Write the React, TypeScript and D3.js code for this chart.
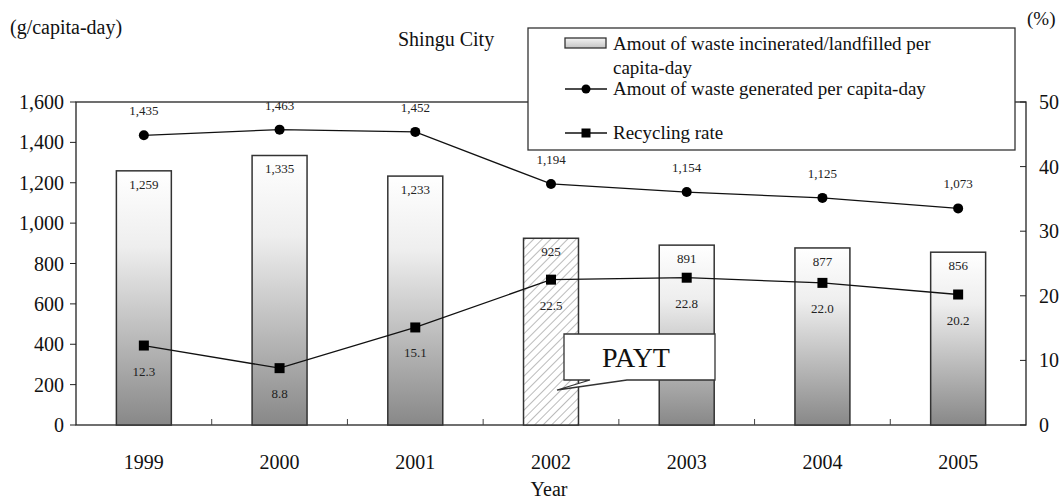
import React from "react";
import * as d3 from "d3";

const years = ["1999", "2000", "2001", "2002", "2003", "2004", "2005"];
const incinerated = [1259, 1335, 1233, 925, 891, 877, 856];
const generated = [1435, 1463, 1452, 1194, 1154, 1125, 1073];
const recycling = [12.3, 8.8, 15.1, 22.5, 22.8, 22.0, 20.2];
const leftTicks = [0, 200, 400, 600, 800, 1000, 1200, 1400, 1600];
const rightTicks = [0, 10, 20, 30, 40, 50];
const hatchedYear = "2002";

const W = 1061, H = 499;
const M = { left: 76, right: 1026, top: 102, bottom: 425 };
const FONT = "'Liberation Serif', 'Times New Roman', serif";

export default function App() {
  const x = d3.scaleBand<string>().domain(years).range([M.left, M.right]).paddingInner(0.595).paddingOuter(0.2975);
  const band = d3.scaleBand<string>().domain(years).range([M.left, M.right]);
  const yL = d3.scaleLinear().domain([0, 1600]).range([M.bottom, M.top]);
  const yR = d3.scaleLinear().domain([0, 50]).range([M.bottom, M.top]);
  const fmt = d3.format(",");
  const cx = (yr: string) => (band(yr) as number) + band.bandwidth() / 2;
  const genLine = d3.line<number>().x((_, i) => cx(years[i])).y((d) => yL(d));
  const recLine = d3.line<number>().x((_, i) => cx(years[i])).y((d) => yR(d));

  return (
    <svg width={W} height={H} style={{ position: "absolute", left: 0, top: 0, fontFamily: FONT }}>
      <defs>
        <linearGradient id="barGrad" x1="0" y1="0" x2="0" y2="1">
          <stop offset="0" stopColor="#ffffff" />
          <stop offset="0.3" stopColor="#eeeeee" />
          <stop offset="1" stopColor="#888888" />
        </linearGradient>
        <linearGradient id="legGrad" x1="0" y1="0" x2="0" y2="1">
          <stop offset="0" stopColor="#f4f4f4" />
          <stop offset="1" stopColor="#c4c4c4" />
        </linearGradient>
        <pattern id="hatch" patternUnits="userSpaceOnUse" width="6" height="6" patternTransform="rotate(45)">
          <rect width="6" height="6" fill="#fff" />
          <line x1="0" y1="0" x2="0" y2="6" stroke="#777" strokeWidth="1" />
        </pattern>
      </defs>
      <rect width={W} height={H} fill="#fff" />

      {/* frame */}
      <rect x={M.left} y={M.top} width={M.right - M.left} height={M.bottom - M.top} fill="none" stroke="#222" strokeWidth={1.3} />

      {/* bars */}
      {years.map((yr, i) => (
        <rect key={yr} x={x(yr)} y={yL(incinerated[i])} width={x.bandwidth()} height={M.bottom - yL(incinerated[i])}
          fill={yr === hatchedYear ? "url(#hatch)" : "url(#barGrad)"} stroke="#333" strokeWidth={1.5} />
      ))}
      {years.map((yr, i) => (
        <text key={"bl" + yr} x={cx(yr)} y={yL(incinerated[i]) + 18} textAnchor="middle" fontSize={13} fill="#222">{fmt(incinerated[i])}</text>
      ))}

      {/* x ticks (inside at band boundaries) */}
      {years.slice(1).map((yr) => (
        <line key={"xt" + yr} x1={band(yr)} x2={band(yr)} y1={M.bottom} y2={M.bottom - 6} stroke="#444" strokeWidth={1} />
      ))}
      {years.map((yr) => (
        <text key={"xl" + yr} x={cx(yr)} y={469} textAnchor="middle" fontSize={20} fill="#111">{yr}</text>
      ))}
      <text x={549} y={496} textAnchor="middle" fontSize={20} fill="#111">Year</text>

      {/* left axis */}
      {leftTicks.map((t) => (
        <g key={"lt" + t}>
          <line x1={M.left - 6} x2={M.left} y1={yL(t)} y2={yL(t)} stroke="#222" />
          <text x={M.left - 12} y={yL(t) + 7} textAnchor="end" fontSize={20} fill="#111">{fmt(t)}</text>
        </g>
      ))}
      <text x={10} y={34} fontSize={20} fill="#111">(g/capita-day)</text>

      {/* right axis */}
      {rightTicks.map((t) => (
        <g key={"rt" + t}>
          <line x1={M.right - 6} x2={M.right} y1={yR(t)} y2={yR(t)} stroke="#222" />
          <text x={M.right + 13} y={yR(t) + 7} textAnchor="start" fontSize={20} fill="#111">{t}</text>
        </g>
      ))}
      <text x={1027} y={25} fontSize={19} fill="#111">(%)</text>

      <text x={398} y={46} fontSize={20} fill="#111">Shingu City</text>

      {/* generated line */}
      <path d={genLine(generated) || ""} fill="none" stroke="#111" strokeWidth={1.3} />
      {generated.map((v, i) => (
        <g key={"g" + i}>
          <circle cx={cx(years[i])} cy={yL(v)} r={5} fill="#000" />
          <text x={cx(years[i])} y={yL(v) - 20} textAnchor="middle" fontSize={13} fill="#222">{fmt(v)}</text>
        </g>
      ))}

      {/* recycling line */}
      <path d={recLine(recycling) || ""} fill="none" stroke="#111" strokeWidth={1.3} />
      {recycling.map((v, i) => (
        <g key={"r" + i}>
          <rect x={cx(years[i]) - 5} y={yR(v) - 5} width={10} height={10} fill="#000" />
          <text x={cx(years[i])} y={yR(v) + 30} textAnchor="middle" fontSize={13} fill="#222">{v.toFixed(1)}</text>
        </g>
      ))}

      {/* PAYT callout */}
      <path d="M564,334 L715,334 L715,380 L627,380 L557,390 L590,380 L564,380 Z" fill="#fff" stroke="#333" strokeWidth={1.3} />
      <text x={636} y={367} textAnchor="middle" fontSize={28} fill="#111">PAYT</text>

      {/* legend */}
      <rect x={528} y={28} width={487} height={122} fill="#fff" stroke="#333" strokeWidth={1.3} />
      <rect x={565} y={38} width={41} height={10} fill="url(#legGrad)" stroke="#333" strokeWidth={1.3} />
      <text x={613} y={50} fontSize={19} fill="#111">Amout of waste incinerated/landfilled per</text>
      <text x={613} y={74} fontSize={19} fill="#111">capita-day</text>
      <line x1={565} x2={607} y1={89} y2={89} stroke="#111" strokeWidth={1.3} />
      <circle cx={586} cy={89} r={4.5} fill="#000" />
      <text x={613} y={95} fontSize={19} fill="#111">Amout of waste generated per capita-day</text>
      <line x1={565} x2={607} y1={133} y2={133} stroke="#111" strokeWidth={1.3} />
      <rect x={581.5} y={128.5} width={9} height={9} fill="#000" />
      <text x={613} y={139} fontSize={19} fill="#111">Recycling rate</text>
    </svg>
  );
}
